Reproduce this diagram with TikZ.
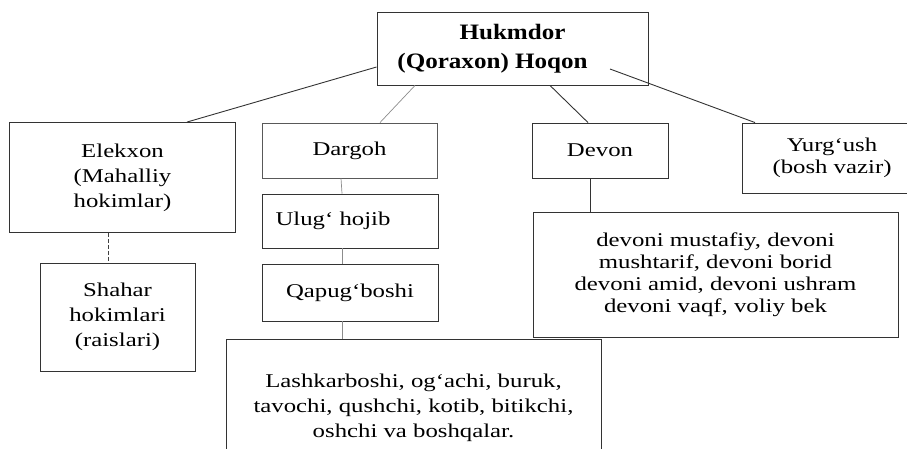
\documentclass[tikz,border=0pt]{standalone}
\usepackage{fontspec}
\setmainfont{Liberation Serif}[FakeStretch=1.27]
\newfontfamily\hkfont{Liberation Serif}[FakeStretch=1.14]
\begin{document}
\begin{tikzpicture}[x=1pt,y=-1pt,
  box/.style={draw=black!80, line width=0.9pt, rectangle, inner sep=0pt,
    align=center, text=black, font=\fontsize{19.5}{25}\selectfont},
  tight/.style={font=\fontsize{19.5}{22}\selectfont},
  conn/.style={draw=black!80, line width=0.9pt},
  faint/.style={draw=black!45, line width=0.7pt},
  dashconn/.style={draw=black!75, line width=0.9pt, dashed, dash pattern=on 4pt off 2pt}]
\useasboundingbox (0,0) rectangle (907,448);
\clip (0,0) rectangle (907,448);

\node[box, minimum width=271, minimum height=73,
      font=\hkfont\bfseries\fontsize{22}{29}\selectfont] (huk) at (512.5,48.5)
      {Hukmdor\\(Qoraxon) Hoqon\hspace*{40pt}};
\node[box, minimum width=226, minimum height=110] (elek) at (122.5,177.5)
      {Elekxon\\(Mahalliy\\hokimlar)};
\node[box, draw=black!65, minimum width=175, minimum height=55] (darg) at (349.5,150.5) {Dargoh};
\node[box, minimum width=176, minimum height=54] (ulug) at (350,221) {Ulug‘ hojib\hspace*{34pt}};
\node[box, minimum width=176, minimum height=57] (qapu) at (350,292.5) {Qapug‘boshi};
\node[box, minimum width=155, minimum height=108] (shah) at (117.5,317)
      {Shahar\\hokimlari\\(raislari)};
\node[box, minimum width=136, minimum height=55] (devon) at (600,150.5) {Devon};
\node[box, tight, minimum width=180, minimum height=70] (yurg) at (832,158)
      {Yurg‘ush\\(bosh vazir)};
\node[box, tight, minimum width=365, minimum height=125] (devoni) at (715.5,274.5)
      {devoni mustafiy, devoni\\mushtarif, devoni borid\\devoni amid, devoni ushram\\devoni vaqf, voliy bek};
\node[box, minimum width=375, minimum height=138] (lash) at (413.5,408)
      {Lashkarboshi, og‘achi, buruk,\\tavochi, qushchi, kotib, bitikchi,\\oshchi va boshqalar.};

\coordinate (hukL) at ([yshift=-18.5pt]huk.west);
\coordinate (hukY) at ([xshift=97.5pt,yshift=-20.5pt]huk.center);

\draw[conn] (hukL) -- ([xshift=64.5pt]elek.north);
\draw[faint] ([xshift=-97.5pt]huk.south) -- ([xshift=30.5pt]darg.north);
\draw[conn] ([xshift=37.5pt]huk.south) -- ([xshift=-12pt]devon.north);
\draw[conn] (hukY) -- ([xshift=-77pt]yurg.north);
\draw[dashconn] ([xshift=-14.5pt]elek.south) -- ([xshift=-9.5pt]shah.north);
\draw[faint] ([xshift=-8.5pt]darg.south) -- ([xshift=-8pt]ulug.north);
\draw[faint] ([xshift=-8pt]ulug.south) -- ([xshift=-8pt]qapu.north);
\draw[faint] ([xshift=-8pt]qapu.south) -- ([xshift=-71.5pt]lash.north);
\draw[conn] ([xshift=-10pt]devon.south) -- ([xshift=-125.5pt]devoni.north);
\end{tikzpicture}
\end{document}
